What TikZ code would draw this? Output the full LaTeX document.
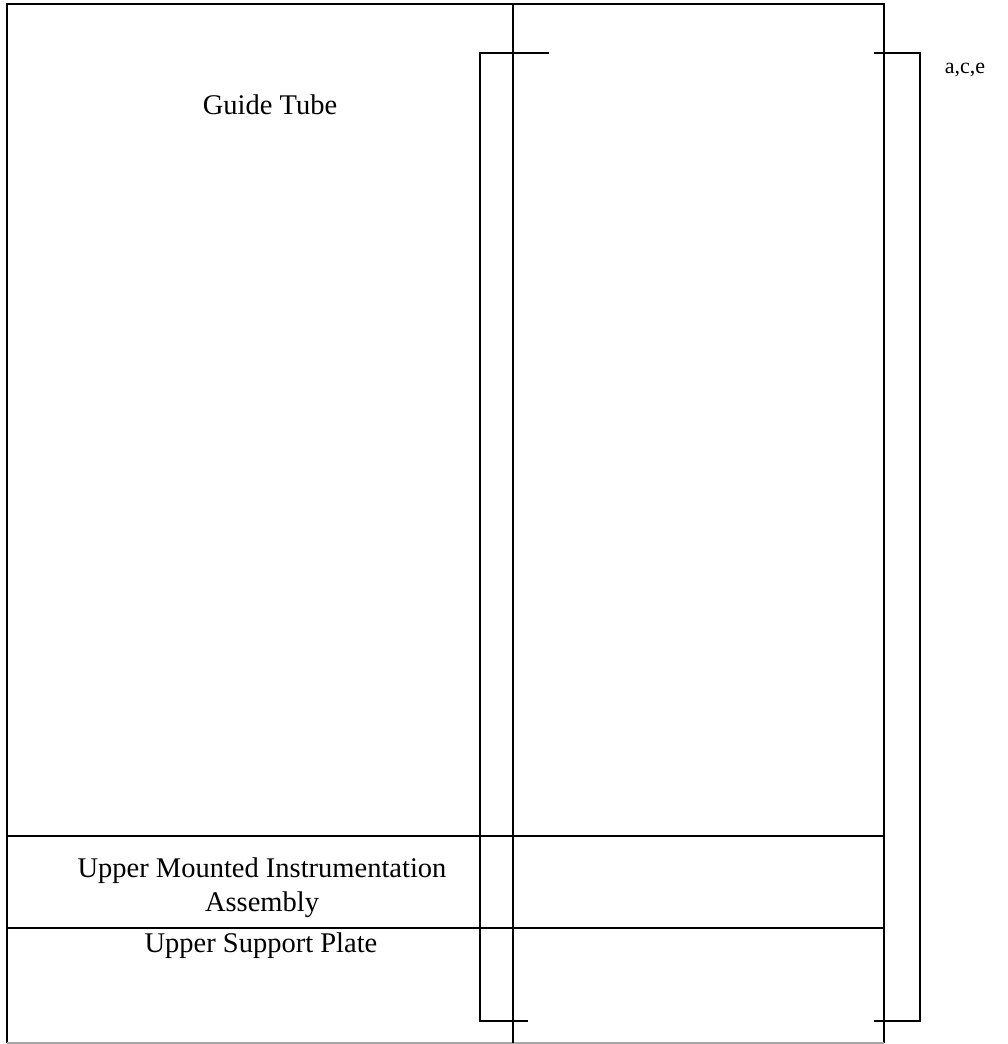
\documentclass[tikz,border=0pt]{standalone}
\usepackage{fontspec}
\setmainfont{Liberation Serif}
\begin{document}
\begin{tikzpicture}[x=1pt,y=-1pt,
  rule/.style={line width=1.6pt,black},
  faint/.style={line width=1.2pt,black!35},
  lbl/.style={inner sep=0pt,font=\fontsize{28.5}{33}\selectfont},
  tag/.style={inner sep=0pt,font=\fontsize{22}{26}\selectfont}]
\useasboundingbox (0,0) rectangle (1007,1044);
% table
\draw[rule] (7,1043) -- (7,4) -- (884,4) -- (884,1043);
\draw[faint] (7,1043) -- (884,1043);
\draw[rule] (513,4) -- (513,1043);
\draw[rule] (7,836) -- (884,836);
\draw[rule] (7,928) -- (884,928);
% brackets
\draw[rule] (549,53) -- (480,53) -- (480,1021) -- (528,1021);
\draw[rule] (874,53) -- (920,53) -- (920,1021) -- (874,1021);
% texts
\node[lbl] (gt) at (270,105) {Guide Tube};
\node[lbl] (umi1) at (262,871) {Upper Mounted Instrumentation};
\node[lbl] (umi2) at (262,905) {Assembly};
\node[lbl] (usp) at (261,946) {Upper Support Plate};
\node[tag] (ace) at (965,70) {a,c,e};
\end{tikzpicture}
\end{document}
